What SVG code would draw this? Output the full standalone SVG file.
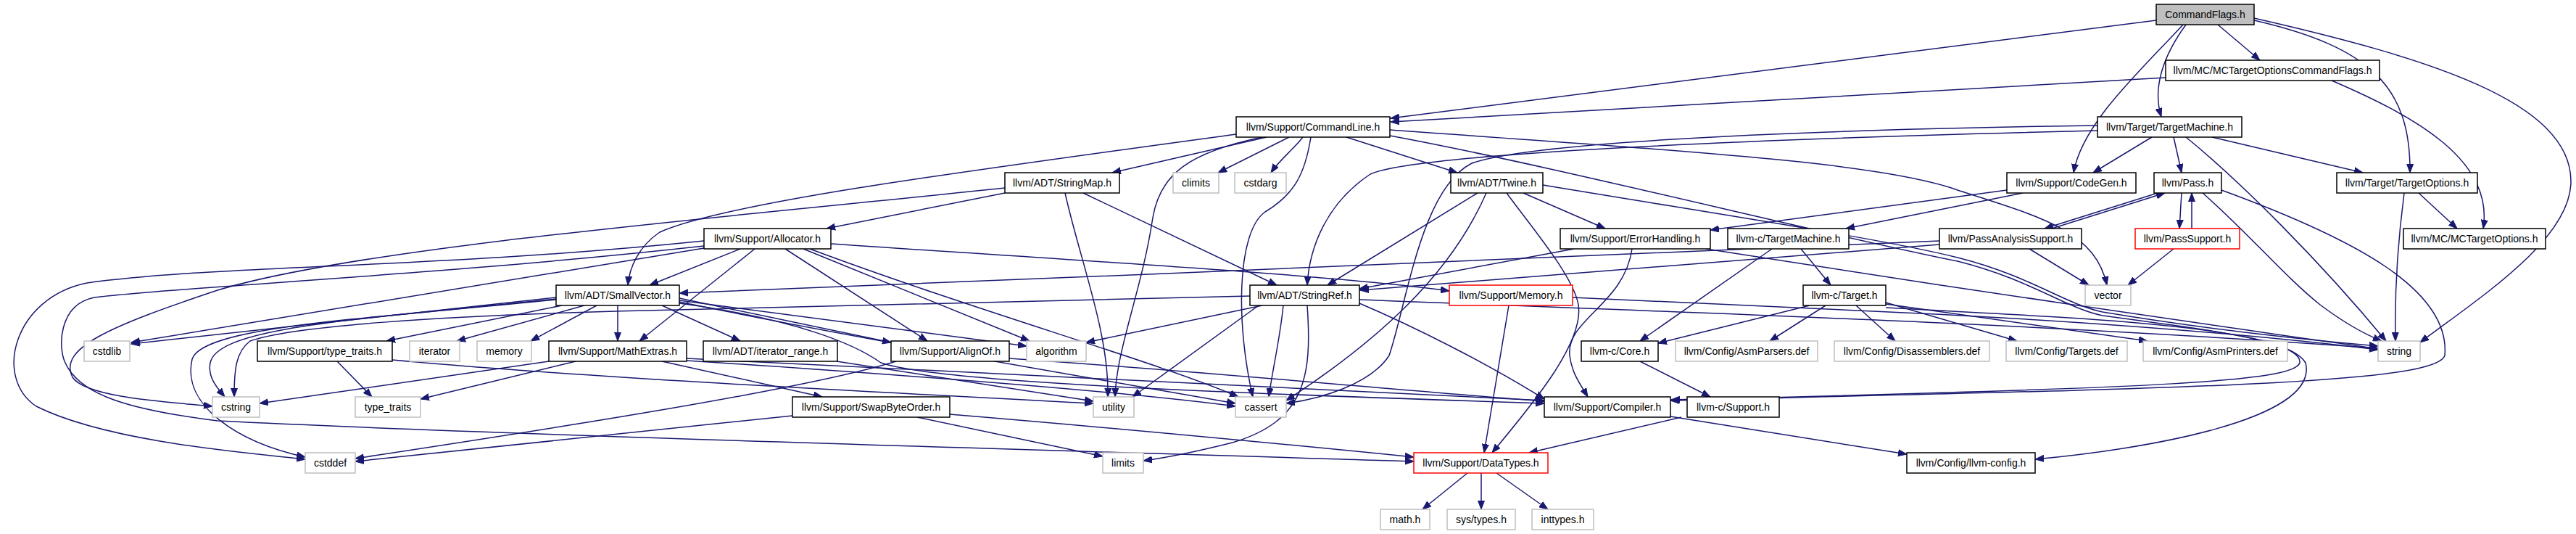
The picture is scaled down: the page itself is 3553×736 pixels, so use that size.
<svg xmlns="http://www.w3.org/2000/svg" width="3553" height="736" viewBox="0 0 3553 736">
<style>
.n rect{fill:#fff;stroke:#000;stroke-width:1.5}
.g rect{fill:#fff;stroke:#bfbfbf;stroke-width:1.5}
.r rect{fill:#fff;stroke:#ff0000;stroke-width:1.5}
.s rect{fill:#bfbfbf;stroke:#000;stroke-width:1.5}
text{font-family:"Liberation Sans",Arial,sans-serif;font-size:14px;fill:#000;text-anchor:middle}
#edges path{fill:none;stroke:#191970;stroke-width:1.5;marker-end:url(#a)}
</style>
<defs>
<marker id="a" markerWidth="13" markerHeight="10" refX="12" refY="5" orient="auto" markerUnits="userSpaceOnUse">
<path d="M0,0.5 L12,5 L0,9.5 z" fill="#191970" stroke="#191970" stroke-width="1"/>
</marker>
</defs>
<rect width="3553" height="736" fill="#fff"/>
<g id="edges">
<path d="M2974,28 L1918,163"/>
<path d="M2987,107 L1918,168"/>
<path d="M3059,34 L3117,83"/>
<path d="M3015,34 C2985,75 2968,120 2981,161"/>
<path d="M3011,34 C2950,100 2872,170 2860,238"/>
<path d="M3109,28 C3270,65 3325,120 3324,238"/>
<path d="M3109,25 C3350,80 3546,140 3546,250 C3546,330 3420,410 3338,472"/>
<path d="M3216,111 C3330,160 3440,220 3425,315"/>
<path d="M2968,189 L2887,238"/>
<path d="M2998,189 L3009,238"/>
<path d="M3051,189 L3259,238"/>
<path d="M3015,189 C3090,250 3200,360 3291,470"/>
<path d="M2893,180 C2400,192 1950,212 1890,240 C1830,280 1806,340 1803,393"/>
<path d="M2893,173 C2400,180 2100,200 2030,225 C1960,260 1940,420 1916,490 C1890,530 1820,550 1774,556"/>
<path d="M1705,185 C1300,240 1000,280 910,320 C880,340 868,370 866,393"/>
<path d="M1747,189 L1534,238"/>
<path d="M1741,189 C1640,210 1600,240 1590,300 C1575,400 1540,480 1538,547"/>
<path d="M1778,189 L1680,238"/>
<path d="M1797,189 C1785,205 1765,220 1753,238"/>
<path d="M1808,189 C1800,240 1785,268 1745,292 C1705,320 1705,450 1728,547"/>
<path d="M1857,189 L2010,238"/>
<path d="M1917,179 C2350,210 2600,225 2700,262 C2820,300 2890,320 2906,393"/>
<path d="M1917,187 C2150,230 2500,320 2700,360 C2800,385 2850,425 2900,435 C3050,455 3175,470 3172,500 C3165,525 3000,535 2305,551"/>
<path d="M1386,266 L1140,315"/>
<path d="M1494,266 L1761,393"/>
<path d="M1469,266 C1490,360 1530,460 1528,547"/>
<path d="M1386,259 C1000,300 500,340 300,400 C150,450 80,480 100,520 C120,550 250,555 293,560"/>
<path d="M1021,343 L896,393"/>
<path d="M1041,343 L882,470"/>
<path d="M1083,343 L1279,470"/>
<path d="M1108,343 L1420,470"/>
<path d="M1117,343 C1350,430 1600,500 1708,547"/>
<path d="M1146,336 C1500,360 1850,380 1999,401"/>
<path d="M971,342 L181,472"/>
<path d="M971,332 C600,370 300,365 120,390 C20,410 -10,520 50,560 C150,610 350,625 421,633"/>
<path d="M971,339 C600,380 250,395 130,410 C80,420 80,480 90,500 C110,545 180,565 300,580 C700,600 1600,625 1950,636"/>
<path d="M767,410 L181,474"/>
<path d="M767,412 C500,440 300,450 290,500 C286,520 300,535 310,547"/>
<path d="M767,413 C500,440 280,450 265,495 C250,560 330,610 421,630"/>
<path d="M1724,408 C1300,418 1000,426 890,428 C600,435 400,450 345,470 C325,485 323,510 323,547"/>
<path d="M775,421 L533,470"/>
<path d="M806,421 L630,470"/>
<path d="M823,421 L732,470"/>
<path d="M852,421 L852,470"/>
<path d="M913,421 L1021,470"/>
<path d="M937,411 L1229,472"/>
<path d="M937,414 L1416,477"/>
<path d="M937,416 C1200,470 1500,520 1704,556"/>
<path d="M937,418 C1100,440 1180,475 1215,500 C1300,530 1800,545 2130,556"/>
<path d="M757,498 L358,556"/>
<path d="M794,498 L580,550"/>
<path d="M913,498 L1134,547"/>
<path d="M947,494 C1400,515 1800,535 2130,552"/>
<path d="M947,497 C1300,520 1550,540 1704,560"/>
<path d="M465,498 L513,547"/>
<path d="M541,496 C800,520 1200,540 1508,556"/>
<path d="M1154,498 L1508,553"/>
<path d="M1392,494 C1700,515 1950,540 2130,553"/>
<path d="M1236,498 C1100,540 700,600 490,632"/>
<path d="M1093,573 C900,595 700,615 490,636"/>
<path d="M1265,575 L1521,629"/>
<path d="M1310,571 C1600,595 1800,615 1950,630"/>
<path d="M1875,413 C2300,430 2800,445 3280,480"/>
<path d="M1803,421 C1810,520 1800,580 1700,610 C1640,625 1600,632 1577,635"/>
<path d="M1770,421 C1765,470 1755,510 1750,547"/>
<path d="M1736,421 L1562,547"/>
<path d="M1741,421 L1498,472"/>
<path d="M1875,418 C1950,450 2050,500 2130,550"/>
<path d="M2038,266 L1831,393"/>
<path d="M2101,266 L2214,315"/>
<path d="M2078,266 C2110,310 2170,380 2177,420 C2185,470 2120,550 2058,624"/>
<path d="M2050,266 C2000,380 1900,470 1774,552"/>
<path d="M2128,255 C2400,300 2600,330 2700,355 C2800,380 2850,420 2900,430 C3050,455 3200,470 3280,477"/>
<path d="M2171,343 L1875,398"/>
<path d="M2251,343 C2240,420 2160,440 2165,490 C2168,515 2180,530 2190,547"/>
<path d="M2353,343 L2670,392 C2800,412 3000,440 3100,455 C3200,470 3250,476 3280,481"/>
<path d="M2768,262 L2359,317"/>
<path d="M2790,266 L2546,315"/>
<path d="M2444,343 L2262,470"/>
<path d="M2484,343 L2525,393"/>
<path d="M2496,421 L2287,473"/>
<path d="M2518,421 L2441,470"/>
<path d="M2560,421 L2614,470"/>
<path d="M2601,417 L2782,470"/>
<path d="M2601,419 L2962,470"/>
<path d="M2601,424 C2900,440 3150,450 3180,500 C3200,580 2950,620 2807,633"/>
<path d="M2304,574 L2630,626"/>
<path d="M2262,498 L2359,547"/>
<path d="M2319,575 L2109,624"/>
<path d="M2081,421 L2047,624"/>
<path d="M2169,410 L2670,433 C2900,445 3100,460 3280,482"/>
<path d="M2024,652 L1962,702"/>
<path d="M2043,652 L2043,702"/>
<path d="M2064,652 L2135,702"/>
<path d="M2976,266 L2820,315"/>
<path d="M2830,315 L2986,266"/>
<path d="M3009,266 L3006,315"/>
<path d="M3023,315 L3023,266"/>
<path d="M3038,266 C3100,320 3150,380 3200,420 C3240,450 3265,462 3285,470"/>
<path d="M3064,262 C3250,330 3380,400 3372,490 C3360,530 3000,535 2304,552"/>
<path d="M2799,343 L2881,393"/>
<path d="M2998,343 L2935,393"/>
<path d="M2675,337 L1876,400"/>
<path d="M2675,332 C2300,352 1500,380 937,404"/>
<path d="M3316,266 C3305,350 3303,420 3304,470"/>
<path d="M3336,266 L3389,315"/>
</g>
<g id="n_CommandFlags" class="s"><rect x="2974" y="6" width="135" height="28"/><text x="3041.5" y="25">CommandFlags.h</text></g>
<g id="n_MCTOCF" class="n"><rect x="2987" y="83" width="295" height="28"/><text x="3134.5" y="102">llvm/MC/MCTargetOptionsCommandFlags.h</text></g>
<g id="n_TargetMachine" class="n"><rect x="2893" y="161" width="199" height="28"/><text x="2992.5" y="180">llvm/Target/TargetMachine.h</text></g>
<g id="n_CommandLine" class="n"><rect x="1705" y="161" width="212" height="28"/><text x="1811" y="180">llvm/Support/CommandLine.h</text></g>
<g id="n_CodeGen" class="n"><rect x="2768" y="238" width="178" height="28"/><text x="2857" y="257">llvm/Support/CodeGen.h</text></g>
<g id="n_Pass" class="n"><rect x="2971" y="238" width="93" height="28"/><text x="3017.5" y="257">llvm/Pass.h</text></g>
<g id="n_TargetOptions" class="n"><rect x="3223" y="238" width="194" height="28"/><text x="3320" y="257">llvm/Target/TargetOptions.h</text></g>
<g id="n_StringMap" class="n"><rect x="1386" y="238" width="158" height="28"/><text x="1465" y="257">llvm/ADT/StringMap.h</text></g>
<g id="n_climits" class="g"><rect x="1618" y="238" width="63" height="28"/><text x="1649.5" y="257">climits</text></g>
<g id="n_cstdarg" class="g"><rect x="1703" y="238" width="71" height="28"/><text x="1738.5" y="257">cstdarg</text></g>
<g id="n_Twine" class="n"><rect x="2001" y="238" width="127" height="28"/><text x="2064.5" y="257">llvm/ADT/Twine.h</text></g>
<g id="n_Allocator" class="n"><rect x="971" y="315" width="175" height="28"/><text x="1058.5" y="334">llvm/Support/Allocator.h</text></g>
<g id="n_ErrorHandling" class="n"><rect x="2152" y="315" width="207" height="28"/><text x="2255.5" y="334">llvm/Support/ErrorHandling.h</text></g>
<g id="n_cTargetMachine" class="n"><rect x="2383" y="315" width="167" height="28"/><text x="2466.5" y="334">llvm-c/TargetMachine.h</text></g>
<g id="n_PassAnalysisSupport" class="n"><rect x="2675" y="315" width="196" height="28"/><text x="2773" y="334">llvm/PassAnalysisSupport.h</text></g>
<g id="n_PassSupport" class="r"><rect x="2945" y="315" width="144" height="28"/><text x="3017" y="334">llvm/PassSupport.h</text></g>
<g id="n_MCTargetOptions" class="n"><rect x="3315" y="315" width="196" height="28"/><text x="3413" y="334">llvm/MC/MCTargetOptions.h</text></g>
<g id="n_SmallVector" class="n"><rect x="767" y="393" width="170" height="28"/><text x="852" y="412">llvm/ADT/SmallVector.h</text></g>
<g id="n_StringRef" class="n"><rect x="1724" y="393" width="151" height="28"/><text x="1799.5" y="412">llvm/ADT/StringRef.h</text></g>
<g id="n_Memory" class="r"><rect x="1999" y="393" width="170" height="28"/><text x="2084" y="412">llvm/Support/Memory.h</text></g>
<g id="n_cTarget" class="n"><rect x="2487" y="393" width="114" height="28"/><text x="2544" y="412">llvm-c/Target.h</text></g>
<g id="n_vector" class="g"><rect x="2876" y="393" width="63" height="28"/><text x="2907.5" y="412">vector</text></g>
<g id="n_cstdlib" class="g"><rect x="116" y="470" width="63" height="28"/><text x="147.5" y="489">cstdlib</text></g>
<g id="n_type_traits_h" class="n"><rect x="355" y="470" width="186" height="28"/><text x="448" y="489">llvm/Support/type_traits.h</text></g>
<g id="n_iterator" class="g"><rect x="565" y="470" width="69" height="28"/><text x="599.5" y="489">iterator</text></g>
<g id="n_memory" class="g"><rect x="658" y="470" width="75" height="28"/><text x="695.5" y="489">memory</text></g>
<g id="n_MathExtras" class="n"><rect x="757" y="470" width="190" height="28"/><text x="852" y="489">llvm/Support/MathExtras.h</text></g>
<g id="n_iterator_range" class="n"><rect x="970" y="470" width="185" height="28"/><text x="1062.5" y="489">llvm/ADT/iterator_range.h</text></g>
<g id="n_AlignOf" class="n"><rect x="1229" y="470" width="163" height="28"/><text x="1310.5" y="489">llvm/Support/AlignOf.h</text></g>
<g id="n_algorithm" class="g"><rect x="1416" y="470" width="82" height="28"/><text x="1457" y="489">algorithm</text></g>
<g id="n_Core" class="n"><rect x="2181" y="470" width="106" height="28"/><text x="2234" y="489">llvm-c/Core.h</text></g>
<g id="n_AsmParsers" class="g"><rect x="2311" y="470" width="196" height="28"/><text x="2409" y="489">llvm/Config/AsmParsers.def</text></g>
<g id="n_Disassemblers" class="g"><rect x="2530" y="470" width="214" height="28"/><text x="2637" y="489">llvm/Config/Disassemblers.def</text></g>
<g id="n_Targets" class="g"><rect x="2767" y="470" width="167" height="28"/><text x="2850.5" y="489">llvm/Config/Targets.def</text></g>
<g id="n_AsmPrinters" class="g"><rect x="2956" y="470" width="199" height="28"/><text x="3055.5" y="489">llvm/Config/AsmPrinters.def</text></g>
<g id="n_string" class="g"><rect x="3280" y="470" width="58" height="28"/><text x="3309" y="489">string</text></g>
<g id="n_cstring" class="g"><rect x="293" y="547" width="65" height="28"/><text x="325.5" y="566">cstring</text></g>
<g id="n_type_traits" class="g"><rect x="490" y="547" width="90" height="28"/><text x="535" y="566">type_traits</text></g>
<g id="n_SwapByteOrder" class="n"><rect x="1093" y="547" width="217" height="28"/><text x="1201.5" y="566">llvm/Support/SwapByteOrder.h</text></g>
<g id="n_utility" class="g"><rect x="1508" y="547" width="56" height="28"/><text x="1536" y="566">utility</text></g>
<g id="n_cassert" class="g"><rect x="1704" y="547" width="70" height="28"/><text x="1739" y="566">cassert</text></g>
<g id="n_Compiler" class="n"><rect x="2130" y="547" width="174" height="28"/><text x="2217" y="566">llvm/Support/Compiler.h</text></g>
<g id="n_cSupport" class="n"><rect x="2327" y="547" width="127" height="28"/><text x="2390.5" y="566">llvm-c/Support.h</text></g>
<g id="n_cstddef" class="g"><rect x="421" y="624" width="69" height="28"/><text x="455.5" y="643">cstddef</text></g>
<g id="n_limits" class="g"><rect x="1521" y="624" width="56" height="28"/><text x="1549" y="643">limits</text></g>
<g id="n_DataTypes" class="r"><rect x="1950" y="624" width="185" height="28"/><text x="2042.5" y="643">llvm/Support/DataTypes.h</text></g>
<g id="n_llvm_config" class="n"><rect x="2630" y="624" width="177" height="28"/><text x="2718.5" y="643">llvm/Config/llvm-config.h</text></g>
<g id="n_math" class="g"><rect x="1904" y="702" width="68" height="28"/><text x="1938" y="721">math.h</text></g>
<g id="n_systypes" class="g"><rect x="1996" y="702" width="94" height="28"/><text x="2043" y="721">sys/types.h</text></g>
<g id="n_inttypes" class="g"><rect x="2113" y="702" width="85" height="28"/><text x="2155.5" y="721">inttypes.h</text></g>
</svg>
